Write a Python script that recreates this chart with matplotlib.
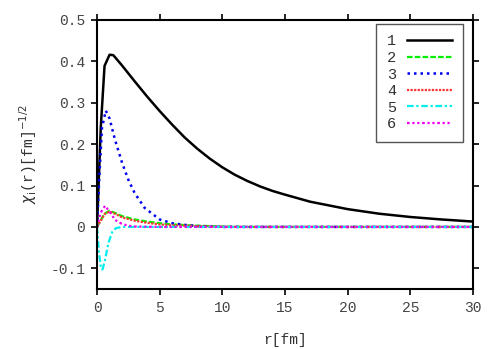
#!/usr/bin/env python3
"""Fonctions d'onde radiales chi_i(r) -- reproduction du graphique."""

import matplotlib
matplotlib.use("Agg")
import matplotlib.pyplot as plt

# Courbe 1 (noire, continue)
r1 = [0, 0.3, 0.6, 1.0, 1.3, 2.0, 2.5, 3.0, 4.0, 5.0, 6.0, 7.0, 8.0, 9.0,
      10.0, 11.0, 12.0, 13.0, 14.0, 15.0, 17.0, 20.0, 22.5, 25.0, 27.5, 30.0]
chi1 = [0, 0.24, 0.389, 0.416, 0.415, 0.39, 0.371, 0.352, 0.315, 0.280,
        0.247, 0.216, 0.189, 0.165, 0.144, 0.126, 0.111, 0.098, 0.087, 0.078,
        0.061, 0.043, 0.032, 0.024, 0.018, 0.013]

# Courbe 2 (verte)
r2 = [0, 0.3, 0.6, 1.0, 1.5, 2.0, 3.0, 4.0, 5.0, 6.0, 8.0, 10.0, 12.0, 30.0]
chi2 = [0, 0.016, 0.032, 0.039, 0.033, 0.026, 0.018, 0.013, 0.009, 0.006,
        0.003, 0.001, 0.0, 0.0]

# Courbe 3 (bleue, pointillée)
r3 = [0, 0.2, 0.4, 0.7, 1.0, 1.44, 2.0, 2.5, 3.0, 3.8, 5.0, 6.0, 7.0, 8.0,
      10.0, 30.0]
chi3 = [0, 0.13, 0.24, 0.281, 0.262, 0.21, 0.155, 0.114, 0.082, 0.046, 0.018,
        0.009, 0.005, 0.002, 0.0, 0.0]

# Courbe 4 (rouge)
r4 = [0, 0.3, 0.6, 1.0, 1.5, 2.0, 3.0, 4.0, 5.0, 6.0, 8.0, 10.0, 30.0]
chi4 = [0, 0.015, 0.031, 0.037, 0.031, 0.023, 0.015, 0.01, 0.006, 0.004,
        0.002, 0.0, 0.0]

# Courbe 5 (cyan)
r5 = [0, 0.15, 0.3, 0.43, 0.6, 0.9, 1.2, 1.5, 2.0, 3.0, 30.0]
chi5 = [0, -0.06, -0.095, -0.103, -0.085, -0.04, -0.013, -0.003, 0.0, 0.0, 0.0]

# Courbe 6 (magenta)
r6 = [0, 0.3, 0.64, 1.0, 1.44, 2.0, 2.5, 3.0, 5.0, 30.0]
chi6 = [0, 0.035, 0.051, 0.037, 0.017, 0.007, 0.003, 0.001, 0.0, 0.0]

labels = ["1", "2", "3", "4", "5", "6"]

x_ticks = [0, 5, 10, 15, 20, 25, 30]
y_ticks = [-0.1, 0, 0.1, 0.2, 0.3, 0.4, 0.5]
y_tick_labels = ["-0.1", "0", "0.1", "0.2", "0.3", "0.4", "0.5"]


def main():
    plt.rcParams['font.family'] = ['Liberation Mono', 'DejaVu Sans Mono']
    plt.rcParams['font.size'] = 10.5
    plt.rcParams['text.color'] = '#333333'
    plt.rcParams['axes.labelcolor'] = '#333333'
    plt.rcParams['xtick.labelcolor'] = '#444444'
    plt.rcParams['ytick.labelcolor'] = '#444444'

    fig = plt.figure(figsize=(4.98, 3.49), dpi=100)
    ax = fig.add_axes([0.1948, 0.1719, 0.755, 0.7708])

    series = [
        (r1, chi1, dict(color='black', linestyle='-', linewidth=1.8)),
        (r2, chi2, dict(color='#00ee00', linestyle=(0, (2.5, 1)), linewidth=1.6)),
        (r3, chi3, dict(color='#0000ee', linestyle=(0, (1, 1.6)), linewidth=1.8)),
        (r4, chi4, dict(color='#ff3333', linestyle=(0, (1, 0.6)), linewidth=1.6)),
        (r5, chi5, dict(color='#00eeee', linestyle=(0, (3, 1.2, 1, 1.2)), linewidth=1.6)),
        (r6, chi6, dict(color='#ee00ee', linestyle=(0, (1.2, 1.2, 1, 1.2, 1, 1.2)), linewidth=1.6)),
    ]
    for (r, chi, style), lab in zip(series, labels):
        ax.plot(r, chi, label=lab, **style)

    ax.set_xlim(0, 30)
    ax.set_ylim(-0.15, 0.5)
    ax.set_xticks(x_ticks)
    ax.set_yticks(y_ticks)
    ax.set_yticklabels(y_tick_labels)

    for side in ['left', 'right', 'top', 'bottom']:
        ax.spines[side].set_linewidth(1.5)
    ax.tick_params(direction='out', length=4.5, width=1.2, pad=4,
                   top=True, right=True, labeltop=False, labelright=False)

    ax.set_xlabel('r[fm]', labelpad=13)
    ax.set_ylabel(r'$\chi_{\mathrm{i}}$(r)[fm]$^{-1/2}$', labelpad=8)

    leg = ax.legend(loc='upper right', bbox_to_anchor=(0.973, 0.985),
                    borderaxespad=0, markerfirst=False, handlelength=3.0,
                    handletextpad=0.7, labelspacing=0.17, fancybox=False,
                    borderpad=0.68, fontsize=11)
    leg.get_frame().set_edgecolor('#555555')
    leg.get_frame().set_linewidth(1.0)
    leg.get_frame().set_alpha(1.0)

    fig.savefig('out.png', dpi=100)


if __name__ == '__main__':
    main()
